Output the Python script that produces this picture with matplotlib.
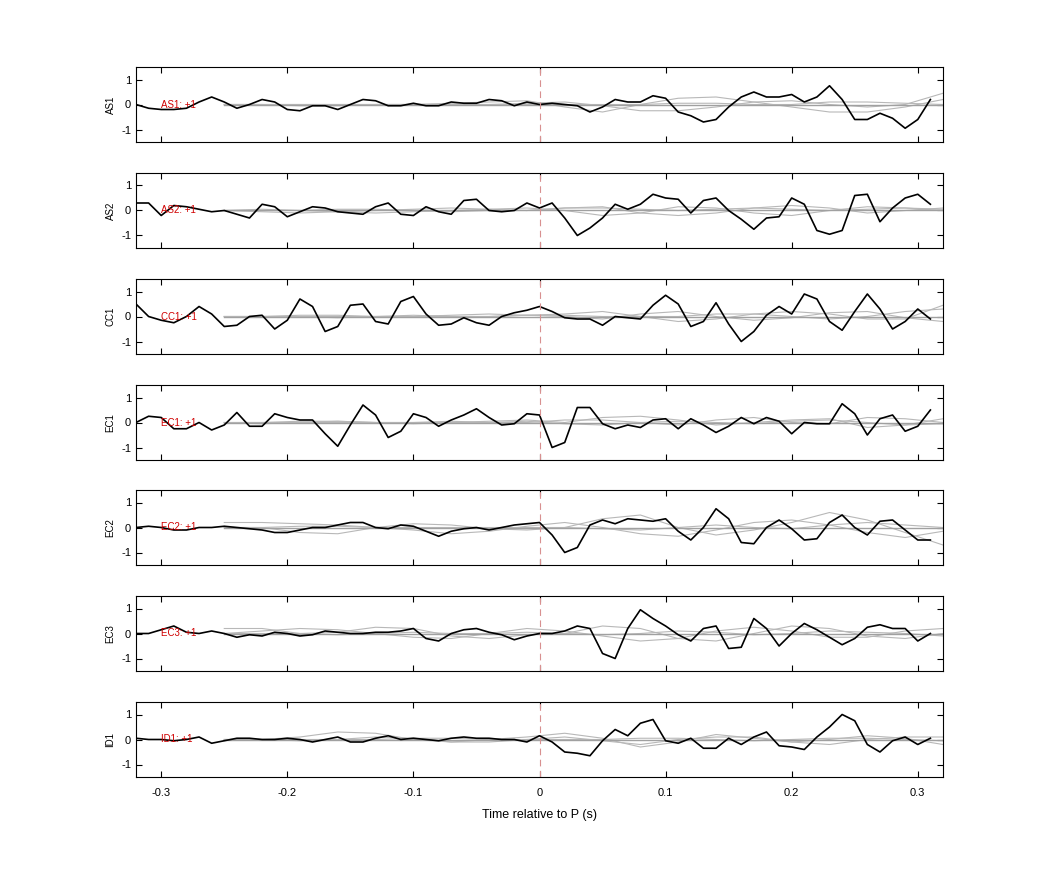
import numpy as np
import matplotlib
matplotlib.use('Agg')
import matplotlib.pyplot as plt

plt.rcParams['font.family'] = ['Liberation Sans', 'DejaVu Sans']
plt.rcParams['axes.unicode_minus'] = False

# station names
stations = ['AS1', 'AS2', 'CC1', 'EC1', 'EC2', 'EC3', 'ID1']

# time axis of the stacked trace (s)
time = np.round(np.arange(-0.32, 0.315, 0.01), 2)

# black traces, -0.32 .. 0.31
traces = {
    'AS1': [0.0, -0.15, -0.2, -0.2, -0.15, 0.1, 0.3, 0.1, -0.15, 0.0,
            0.2, 0.1, -0.2, -0.25, -0.05, -0.05, -0.2, 0.0, 0.2, 0.15,
            -0.05, -0.05, 0.05, -0.05, -0.05, 0.1, 0.05, 0.05, 0.2, 0.15,
            -0.05, 0.1,
            0.0, 0.05, 0.0, -0.05, -0.3, -0.1, 0.2, 0.1, 0.1, 0.35,
            0.25, -0.3, -0.45, -0.7, -0.6, -0.1, 0.3, 0.5, 0.3, 0.3,
            0.4, 0.1, 0.3, 0.75, 0.2, -0.6, -0.6, -0.35, -0.55, -0.95,
            -0.6, 0.2],
    'AS2': [0.3, 0.3, -0.2, 0.2, 0.15, 0.05, -0.05, 0.0, -0.15, -0.3,
            0.25, 0.15, -0.25, -0.05, 0.15, 0.1, -0.05, -0.1, -0.15, 0.15,
            0.3, -0.15, -0.2, 0.15, -0.05, -0.15, 0.4, 0.45, 0.0, -0.05,
            0.0, 0.3,
            0.1, 0.3, -0.3, -1.0, -0.7, -0.3, 0.25, 0.05, 0.25, 0.65,
            0.5, 0.45, -0.1, 0.4, 0.5, 0.0, -0.35, -0.75, -0.3, -0.25,
            0.5, 0.25, -0.8, -0.95, -0.8, 0.6, 0.65, -0.45, 0.1, 0.5,
            0.65, 0.25],
    'CC1': [0.5, 0.0, -0.15, -0.25, 0.0, 0.4, 0.1, -0.4, -0.35, 0.0,
            0.05, -0.5, -0.15, 0.7, 0.4, -0.6, -0.4, 0.45, 0.5, -0.2,
            -0.3, 0.6, 0.8, 0.1, -0.35, -0.3, -0.05, -0.25, -0.35, 0.0,
            0.15, 0.25,
            0.4, 0.2, -0.05, -0.1, -0.1, -0.35, 0.0, -0.05, -0.1, 0.45,
            0.85, 0.5, -0.4, -0.2, 0.55, -0.3, -1.0, -0.6, 0.05, 0.4,
            0.1, 0.9, 0.7, -0.2, -0.55, 0.2, 0.9, 0.3, -0.5, -0.2,
            0.3, -0.1],
    'EC1': [0.0, 0.25, 0.2, -0.25, -0.25, 0.0, -0.3, -0.1, 0.4, -0.15,
            -0.15, 0.35, 0.2, 0.1, 0.1, -0.45, -0.95, -0.1, 0.7, 0.3,
            -0.6, -0.35, 0.35, 0.2, -0.15, 0.1, 0.3, 0.55, 0.2, -0.1,
            -0.05, 0.35,
            0.3, -1.0, -0.8, 0.6, 0.6, -0.05, -0.25, -0.1, -0.2, 0.1,
            0.15, -0.25, 0.15, -0.1, -0.4, -0.15, 0.2, -0.05, 0.2, 0.05,
            -0.45, 0.0, -0.05, -0.05, 0.75, 0.35, -0.5, 0.15, 0.3, -0.35,
            -0.15, 0.5],
    'EC2': [0.0, 0.05, 0.0, -0.1, -0.1, 0.0, 0.0, 0.05, 0.0, -0.05,
            -0.1, -0.2, -0.2, -0.1, 0.0, 0.0, 0.1, 0.2, 0.2, 0.0,
            -0.05, 0.1, 0.05, -0.15, -0.35, -0.15, -0.05, 0.0, -0.1, 0.0,
            0.1, 0.15,
            0.2, -0.3, -1.0, -0.8, 0.1, 0.3, 0.15, 0.35, 0.3, 0.25,
            0.35, -0.15, -0.5, 0.0, 0.75, 0.35, -0.6, -0.65, 0.0, 0.3,
            -0.05, -0.5, -0.45, 0.2, 0.5, 0.0, -0.3, 0.25, 0.3, -0.1,
            -0.5, -0.5],
    'EC3': [0.0, 0.0, 0.15, 0.3, 0.05, 0.0, 0.1, 0.0, -0.15, -0.05,
            -0.1, 0.05, 0.0, -0.1, -0.05, 0.1, 0.05, 0.0, 0.0, 0.05,
            0.05, 0.1, 0.2, -0.2, -0.3, 0.0, 0.15, 0.2, 0.05, -0.05,
            -0.25, -0.1,
            0.0, 0.0, 0.1, 0.3, 0.2, -0.8, -1.0, 0.2, 0.95, 0.6,
            0.3, -0.05, -0.3, 0.2, 0.3, -0.6, -0.55, 0.6, 0.2, -0.5,
            0.0, 0.4, 0.15, -0.15, -0.45, -0.2, 0.25, 0.35, 0.2, 0.2,
            -0.3, 0.0],
    'ID1': [0.05, 0.0, 0.0, -0.05, 0.0, 0.1, -0.15, -0.05, 0.05, 0.05,
            0.0, 0.0, 0.05, 0.0, -0.1, 0.0, 0.1, -0.1, -0.1, 0.05,
            0.15, 0.0, 0.05, 0.0, -0.05, 0.05, 0.1, 0.05, 0.05, 0.0,
            0.0, -0.1,
            0.15, -0.1, -0.5, -0.55, -0.65, -0.05, 0.4, 0.15, 0.65, 0.8,
            -0.05, -0.15, 0.05, -0.35, -0.35, 0.05, -0.2, 0.1, 0.3, -0.25,
            -0.3, -0.4, 0.1, 0.5, 1.0, 0.75, -0.2, -0.5, -0.05, 0.1,
            -0.2, 0.05],
}

# grey synthetic traces, sampled every 0.03 s from -0.25 to 0.32
gtime = np.round(np.arange(-0.25, 0.33, 0.03), 2)
grey = {
    'AS1': [[0.0, 0.0, 0.0, 0.0, 0.0, 0.0, 0.0, 0.0, 0.05, 0.1, -0.05, -0.25, -0.25, -0.1, 0.1, 0.15, 0.0, -0.1, 0.0, 0.45],
            [0.0, 0.0, -0.05, -0.05, 0.0, 0.0, 0.05, 0.1, 0.15, -0.1, -0.3, 0.0, 0.25, 0.3, 0.1, -0.1, -0.3, -0.3, -0.1, 0.2],
            [0.0, 0.0, 0.0, 0.0, 0.0, 0.0, 0.0, 0.0, 0.0, 0.0, 0.0, 0.0, 0.05, 0.05, 0.0, 0.0, 0.1, 0.1, 0.05, 0.0]],
    'AS2': [[0.0, -0.05, -0.1, -0.05, 0.0, 0.05, 0.1, 0.05, 0.0, 0.1, 0.15, -0.1, -0.2, -0.1, 0.1, 0.2, 0.1, -0.1, 0.0, 0.1],
            [0.0, 0.05, 0.0, -0.05, -0.1, -0.05, 0.0, 0.05, 0.1, 0.0, -0.2, -0.1, 0.15, 0.1, -0.1, -0.2, 0.0, 0.15, 0.1, 0.0],
            [0.0, 0.0, 0.0, 0.05, 0.05, 0.0, -0.05, 0.0, 0.0, 0.1, 0.1, 0.05, 0.0, 0.05, 0.1, 0.05, 0.0, 0.05, 0.1, 0.05]],
    'CC1': [[0.0, 0.0, 0.05, 0.05, 0.0, 0.0, 0.05, 0.1, 0.05, 0.1, 0.2, 0.0, -0.2, -0.1, 0.1, 0.2, 0.1, -0.1, -0.1, 0.45],
            [0.0, 0.0, 0.0, -0.05, 0.0, 0.05, 0.0, 0.0, 0.05, 0.0, -0.1, 0.1, 0.2, 0.0, -0.15, -0.05, 0.15, 0.2, -0.05, -0.2],
            [0.0, 0.0, 0.0, 0.0, 0.0, 0.0, 0.0, 0.0, 0.05, 0.05, 0.0, 0.0, 0.0, 0.1, 0.1, 0.0, -0.1, 0.0, 0.2, 0.3]],
    'EC1': [[0.0, 0.0, 0.05, 0.05, 0.0, -0.05, 0.0, 0.05, 0.1, 0.0, 0.2, 0.25, 0.1, -0.1, 0.0, 0.1, 0.15, -0.2, -0.1, 0.15],
            [0.0, -0.05, 0.0, 0.05, 0.0, 0.0, 0.05, 0.0, 0.0, 0.1, 0.1, 0.0, -0.1, 0.1, 0.2, 0.0, -0.05, 0.2, 0.15, 0.0],
            [0.0, 0.0, 0.0, 0.0, 0.0, 0.0, 0.0, 0.0, 0.05, -0.05, -0.1, 0.0, 0.05, 0.0, -0.05, 0.05, 0.1, 0.0, -0.1, -0.05]],
    'EC2': [[0.2, 0.2, 0.15, 0.1, 0.0, -0.1, -0.25, -0.15, 0.05, 0.2, 0.0, -0.25, -0.35, -0.1, 0.2, 0.3, 0.1, -0.2, -0.4, -0.15],
            [0.0, 0.0, -0.2, -0.25, 0.0, 0.15, 0.1, -0.05, -0.1, 0.0, 0.35, 0.5, 0.0, -0.3, -0.1, 0.2, 0.6, 0.3, -0.2, -0.7],
            [0.0, 0.0, 0.05, 0.05, 0.0, 0.0, 0.0, 0.0, 0.0, 0.0, -0.05, -0.1, 0.0, 0.1, 0.0, -0.05, 0.1, 0.2, 0.1, 0.0]],
    'EC3': [[0.0, 0.1, 0.2, 0.15, 0.0, -0.15, -0.2, 0.0, 0.2, 0.1, -0.1, -0.3, -0.2, 0.1, 0.25, 0.1, -0.15, -0.15, 0.1, 0.2],
            [0.2, 0.2, 0.0, 0.05, 0.25, 0.2, -0.1, -0.2, -0.05, 0.0, 0.3, 0.2, -0.2, -0.3, 0.0, 0.3, 0.2, -0.1, -0.2, 0.0],
            [0.0, 0.0, 0.0, -0.05, 0.0, 0.05, 0.0, 0.0, 0.05, 0.0, -0.05, 0.0, 0.1, 0.05, -0.05, 0.0, 0.1, 0.05, 0.0, -0.1]],
    'ID1': [[0.0, 0.0, 0.1, 0.3, 0.25, 0.0, -0.1, 0.0, 0.1, 0.25, 0.05, -0.3, -0.1, 0.2, 0.05, -0.1, 0.0, 0.15, 0.05, -0.2],
            [0.0, 0.0, -0.05, 0.0, 0.1, 0.05, -0.1, -0.1, 0.0, 0.1, -0.05, -0.2, 0.0, 0.1, 0.1, -0.1, -0.2, 0.0, 0.1, 0.1],
            [0.0, 0.0, 0.0, 0.0, 0.0, 0.05, 0.05, 0.0, 0.0, 0.0, 0.0, 0.05, 0.05, 0.0, -0.05, 0.0, 0.05, 0.05, 0.0, -0.05]],
}

fig = plt.figure(figsize=(10.42, 8.75), dpi=100)
left, width = 136 / 1042, 807 / 1042
height = 75 / 875
tops = [67, 173, 279, 385, 490, 596, 702]

for i, st in enumerate(stations):
    ax = fig.add_axes([left, 1 - (tops[i] + 75) / 875, width, height])
    for g in grey[st]:
        ax.plot(gtime, g, color='#b8b8b8', lw=0.8)
    ax.plot(gtime, np.zeros(len(gtime)), color='#a0a0a0', lw=1.0)
    ax.plot(time, traces[st], color='black', lw=1.2)
    ax.axvline(0, color='#d89090', ls=(0, (6, 4)), lw=0.8)
    ax.text(-0.3, 0, st + ': +1', color='#d00000', fontsize=7, va='center')
    ax.set_xlim(-0.32, 0.32)
    ax.set_ylim(-1.5, 1.5)
    ax.set_yticks([-1, 0, 1])
    ax.set_xticks([-0.3, -0.2, -0.1, 0, 0.1, 0.2, 0.3])
    ax.tick_params(direction='in', top=True, right=True, labelsize=8, length=4)
    ax.tick_params(axis='x', pad=8)
    ax.set_ylabel(st, fontsize=7)
    if i < len(stations) - 1:
        ax.set_xticklabels([])
    else:
        ax.set_xticklabels(['-0.3', '-0.2', '-0.1', '0', '0.1', '0.2', '0.3'])
        ax.set_xlabel('Time relative to P (s)', fontsize=9, labelpad=8)

fig.savefig('out.png', dpi=100)
